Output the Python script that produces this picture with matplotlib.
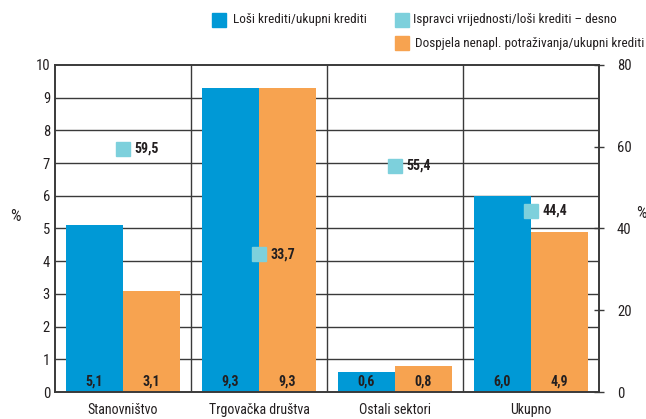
import matplotlib
matplotlib.use("Agg")
import matplotlib.pyplot as plt
from matplotlib.patches import Rectangle
from matplotlib import font_manager
import numpy as np

categories = ["Stanovništvo", "Trgovačka društva", "Ostali sektori", "Ukupno"]
losi = [5.1, 9.3, 0.6, 6.0]
dospjela = [3.1, 9.3, 0.8, 4.9]
ispravci = [59.5, 33.7, 55.4, 44.4]

legend_labels = ["Loši krediti/ukupni krediti",
                 "Ispravci vrijednosti/loši krediti – desno",
                 "Dospjela nenapl. potraživanja/ukupni krediti"]

BLUE = "#0099d6"
ORANGE = "#f7a350"
CYAN = "#7dd0dc"
GRID = "#3a3a3a"
TXT = "#231f20"

names = {f.name for f in font_manager.fontManager.ttflist}
fam = [n for n in ["Roboto Condensed", "Liberation Sans Narrow", "Lato", "DejaVu Sans"] if n in names]
plt.rcParams['font.family'] = fam

W, H = 646, 419
fig = plt.figure(figsize=(W/100, H/100), dpi=100)
ax = fig.add_axes([55/W, 1-392/H, 544/W, 327/H])
ax2 = ax.twinx()

x = np.arange(len(categories))
w = 0.42
ax.set_xlim(-0.5, len(categories)-0.5)
ax.set_ylim(0, 10)
ax2.set_ylim(0, 80)

for yv in range(1, 10):
    ax.axhline(yv, color=GRID, lw=1.0, zorder=0)
for xv in np.arange(0.5, len(categories)-0.5, 1):
    ax.axvline(xv, color=GRID, lw=1.0, zorder=0)

ax.bar(x - w/2, losi, w, color=BLUE, zorder=2)
ax.bar(x + w/2, dospjela, w, color=ORANGE, zorder=2)

for i in range(len(categories)):
    ax.text(x[i]-w/2, 0.1, f"{losi[i]:.1f}".replace(".", ","), ha="center", va="bottom",
            fontsize=10, fontweight="bold", color=TXT, zorder=3)
    ax.text(x[i]+w/2, 0.1, f"{dospjela[i]:.1f}".replace(".", ","), ha="center", va="bottom",
            fontsize=10, fontweight="bold", color=TXT, zorder=3)

ax2.plot(x, ispravci, linestyle="none", marker="s", markersize=9.5, color=CYAN, zorder=4)
for i in range(len(categories)):
    ax2.annotate(f"{ispravci[i]:.1f}".replace(".", ","), (x[i], ispravci[i]),
                 xytext=(8, 0), textcoords="offset points", ha="left", va="center",
                 fontsize=10, fontweight="bold", color=TXT)

ax.set_yticks(range(0, 11))
ax2.set_yticks(range(0, 81, 20))
ax.set_xticks(x)
ax.set_xticklabels(categories, fontsize=10, color=TXT)
ax.tick_params(axis="x", length=0, pad=8)
ax.tick_params(axis="y", length=0, pad=3.6, labelsize=10.5, labelcolor=TXT)
ax2.tick_params(axis="y", direction="inout", length=7, width=1, pad=9.5, labelsize=10.5,
                labelcolor=TXT, color=GRID)

for a in (ax, ax2):
    for s in a.spines.values():
        s.set_color(GRID)
        s.set_linewidth(1.2)

fig.text(15/W, 1-216/H, "%", ha="center", va="center", fontsize=12, color=TXT)
fig.text(641/W, 1-214/H, "%", ha="center", va="center", fontsize=12, color=TXT)

# legend (manual placement)
leg = [(212, 20, BLUE, 233, legend_labels[0]),
       (395, 20, CYAN, 413, legend_labels[1]),
       (395, 43, ORANGE, 415, legend_labels[2])]
for sx, cy, col, tx, lab in leg:
    fig.patches.append(Rectangle((sx/W, 1-(cy+7)/H), 14/W, 14/H, color=col,
                                 transform=fig.transFigure, figure=fig))
    fig.text(tx/W, 1-cy/H, lab, ha="left", va="center", fontsize=9.5, color=TXT)

fig.savefig("out.png", dpi=100)
